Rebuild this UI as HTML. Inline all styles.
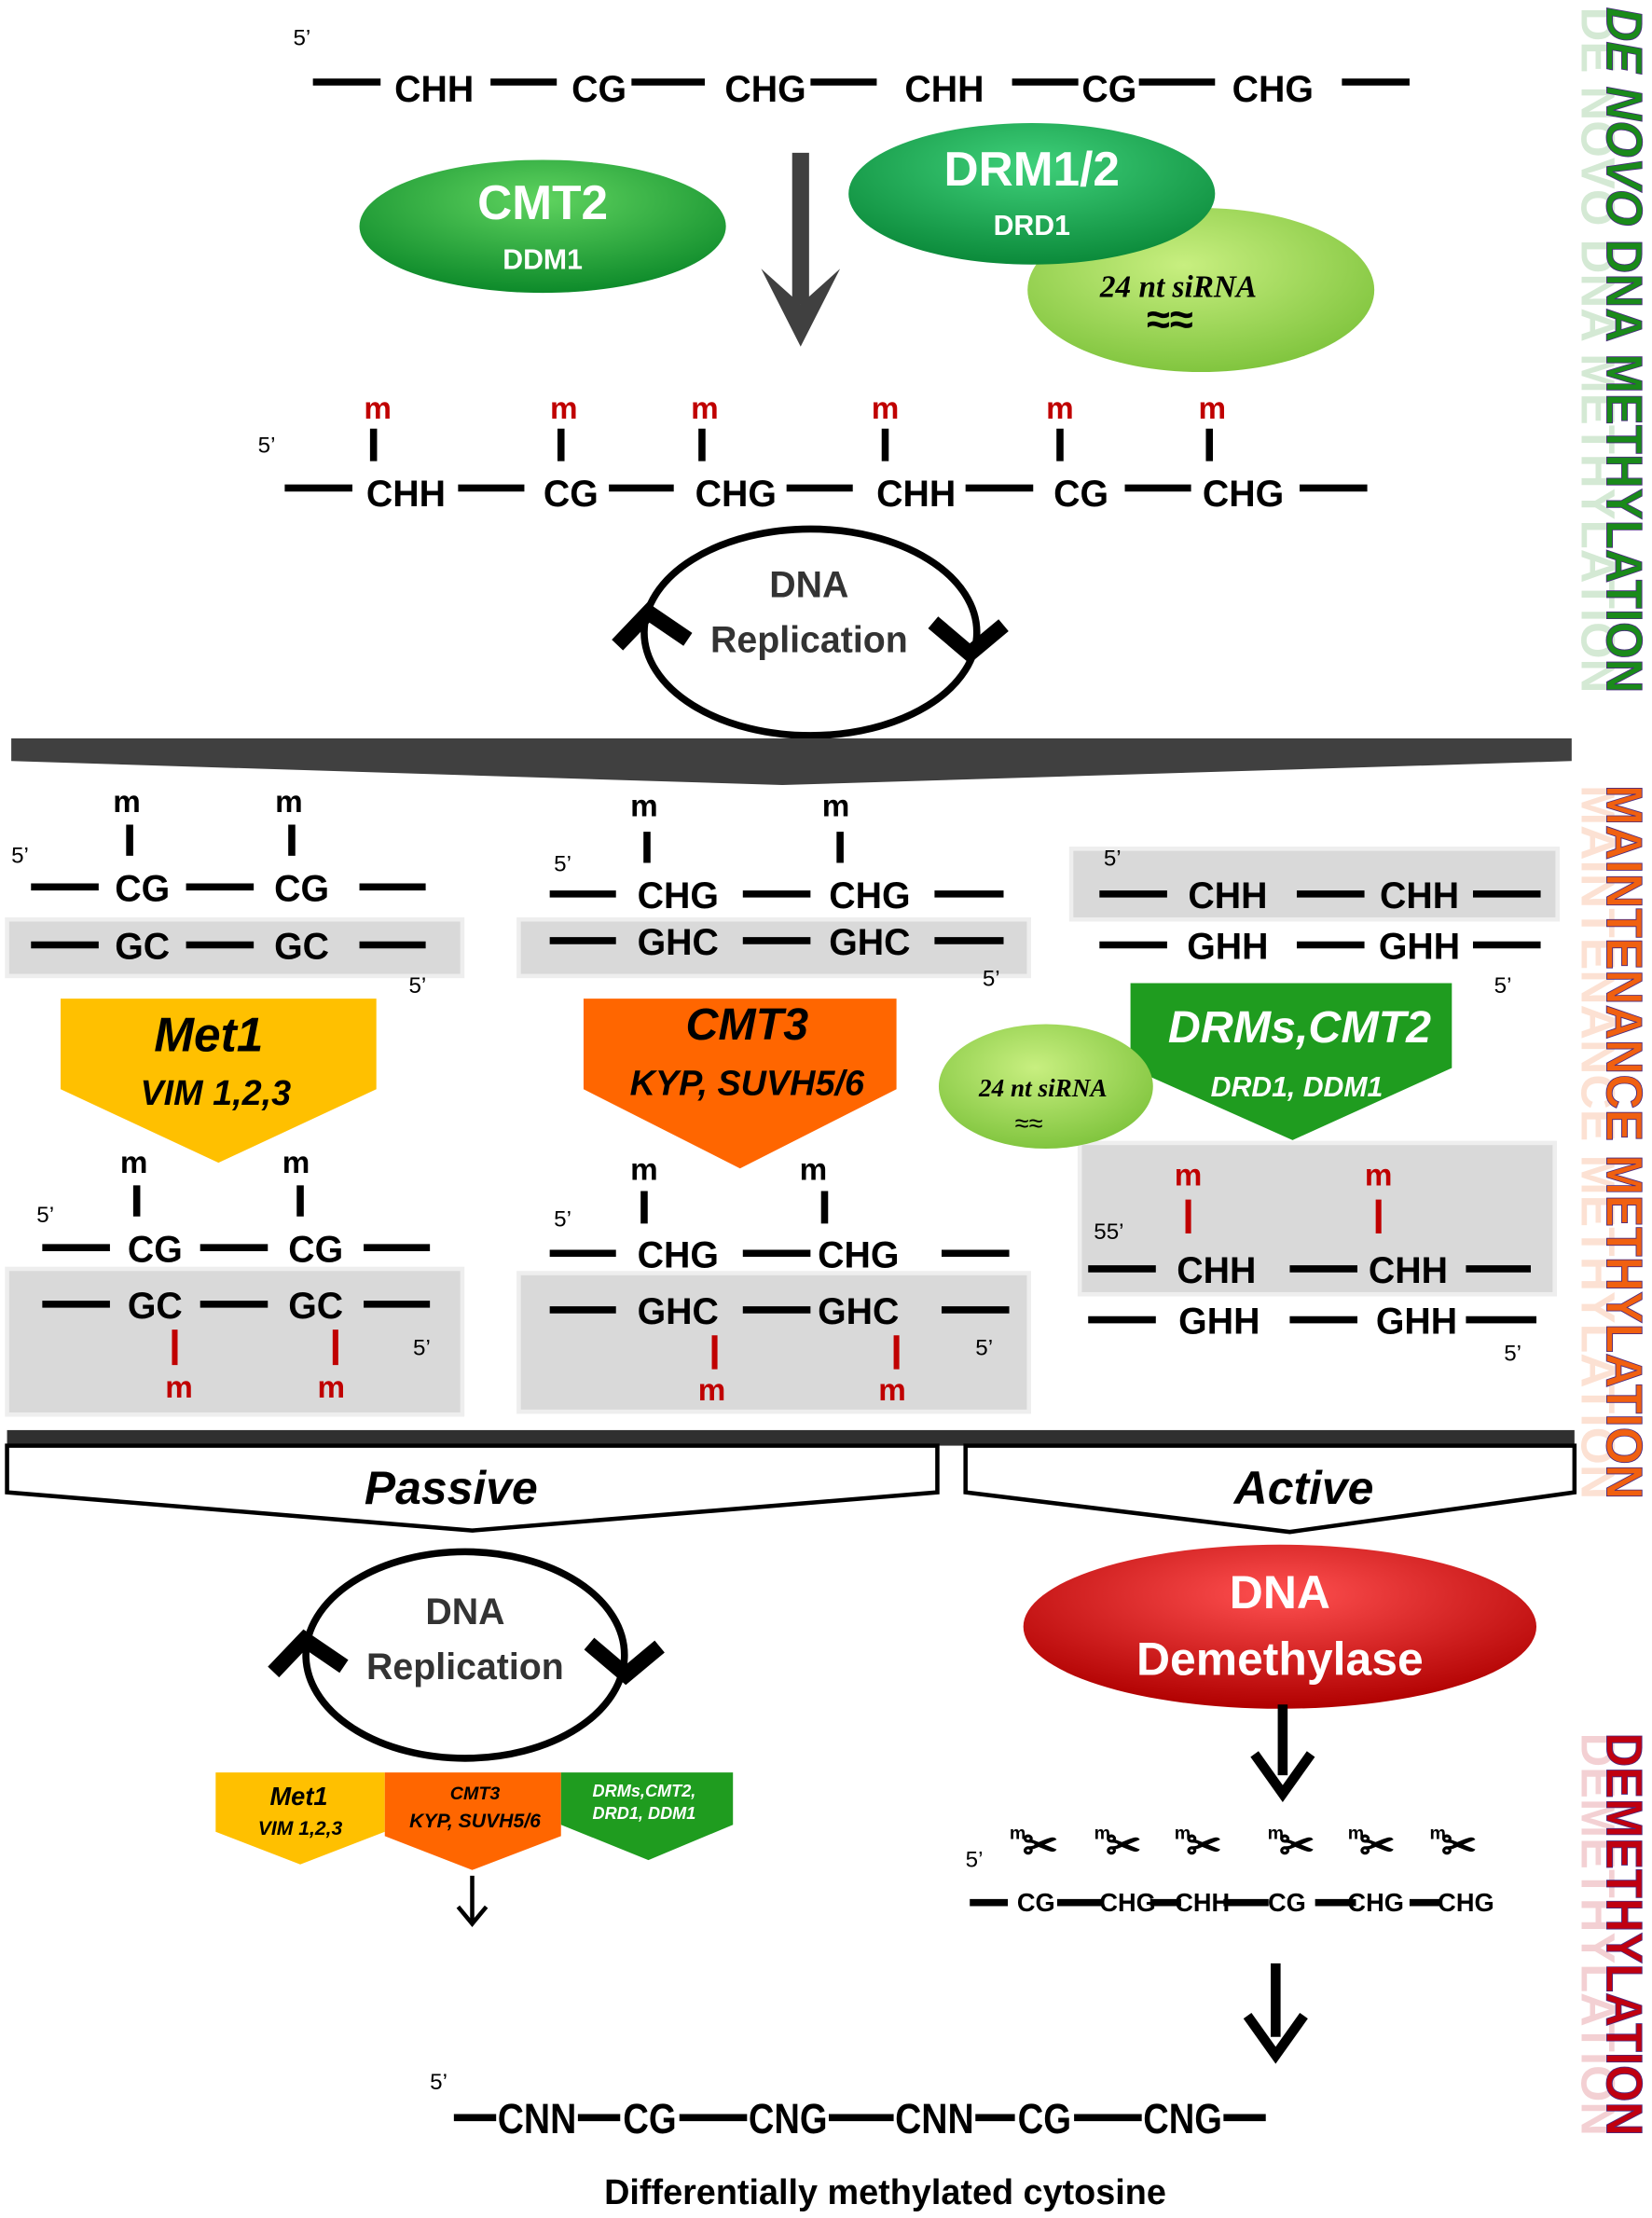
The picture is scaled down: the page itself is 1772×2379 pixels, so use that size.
<!DOCTYPE html>
<html><head><meta charset="utf-8"><style>
html,body{margin:0;padding:0;background:#fff}
svg{display:block}
text{font-family:"Liberation Sans",sans-serif;font-weight:bold}
</style></head><body>
<svg width="1772" height="2379" viewBox="0 0 1172 1568" preserveAspectRatio="none" xmlns="http://www.w3.org/2000/svg">
<defs>
<radialGradient id="gG" cx="50%" cy="30%" r="70%"><stop offset="0" stop-color="#5fd35f"/><stop offset="1" stop-color="#0d8a2a"/></radialGradient>
<radialGradient id="gD" cx="50%" cy="30%" r="70%"><stop offset="0" stop-color="#3fd07a"/><stop offset="1" stop-color="#0b8a3a"/></radialGradient>
<radialGradient id="gL" cx="45%" cy="35%" r="70%"><stop offset="0" stop-color="#c8ef80"/><stop offset="1" stop-color="#7cc23a"/></radialGradient>
<radialGradient id="gR" cx="50%" cy="30%" r="70%"><stop offset="0" stop-color="#ff5050"/><stop offset="1" stop-color="#b00000"/></radialGradient>
</defs>
<g stroke="#000" stroke-width="5">
<line x1="222" y1="58" x2="270" y2="58"/><line x1="348" y1="58" x2="395" y2="58"/><line x1="448" y1="58" x2="500" y2="58"/><line x1="575" y1="58" x2="622" y2="58"/><line x1="718" y1="58" x2="765" y2="58"/><line x1="808" y1="58" x2="862" y2="58"/><line x1="952" y1="58" x2="1000" y2="58"/>
<line x1="202" y1="345" x2="250" y2="345"/><line x1="325" y1="345" x2="372" y2="345"/><line x1="432" y1="345" x2="478" y2="345"/><line x1="558" y1="345" x2="605" y2="345"/><line x1="685" y1="345" x2="733" y2="345"/><line x1="798" y1="345" x2="845" y2="345"/><line x1="922" y1="345" x2="970" y2="345"/>
<line x1="265" y1="303" x2="265" y2="326"/><line x1="398" y1="303" x2="398" y2="326"/><line x1="498" y1="303" x2="498" y2="326"/><line x1="628" y1="303" x2="628" y2="326"/><line x1="752" y1="303" x2="752" y2="326"/><line x1="858" y1="303" x2="858" y2="326"/>
</g>
<g font-size="26" text-anchor="middle">
<text x="308" y="72">CHH</text><text x="425" y="72">CG</text><text x="543" y="72">CHG</text><text x="670" y="72">CHH</text><text x="787" y="72">CG</text><text x="903" y="72">CHG</text>
<text x="288" y="358">CHH</text><text x="405" y="358">CG</text><text x="522" y="358">CHG</text><text x="650" y="358">CHH</text><text x="767" y="358">CG</text><text x="882" y="358">CHG</text>
</g>
<g font-size="22" fill="#c00000" text-anchor="middle"><text x="268" y="296">m</text><text x="400" y="296">m</text><text x="500" y="296">m</text><text x="628" y="296">m</text><text x="752" y="296">m</text><text x="860" y="296">m</text></g>
<g font-size="16"><text x="208" y="32" style="font-weight:normal">5’</text><text x="183" y="320" style="font-weight:normal">5’</text></g>
<line x1="568" y1="108" x2="568" y2="215" stroke="#404040" stroke-width="12"/>
<polygon points="540,190 568,245 596,190 568,215" fill="#404040"/>
<ellipse cx="385" cy="160" rx="130" ry="47" fill="url(#gG)"/>
<text x="385" y="155" font-size="34" fill="#fff" text-anchor="middle">CMT2</text>
<text x="385" y="190" font-size="20" fill="#fff" text-anchor="middle">DDM1</text>
<ellipse cx="852" cy="205" rx="123" ry="58" fill="url(#gL)"/>
<ellipse cx="732" cy="137" rx="130" ry="50" fill="url(#gD)"/>
<text x="732" y="131" font-size="34" fill="#fff" text-anchor="middle">DRM1/2</text>
<text x="732" y="166" font-size="20" fill="#fff" text-anchor="middle">DRD1</text>
<text x="836" y="210" font-size="22" font-style="italic" text-anchor="middle" style="font-family:'Liberation Serif',serif">24 nt siRNA</text>
<text x="830" y="236" font-size="30" text-anchor="middle">≈≈</text>
<ellipse cx="575" cy="447" rx="118" ry="73" fill="none" stroke="#000" stroke-width="5"/>
<polyline points="438,456 460,433 488,452" fill="none" stroke="#000" stroke-width="11"/>
<polyline points="662,440 688,462 712,442" fill="none" stroke="#000" stroke-width="11"/>
<text x="574" y="422" font-size="26" fill="#333" text-anchor="middle">DNA</text>
<text x="574" y="461" font-size="26" fill="#333" text-anchor="middle">Replication</text>
<polygon points="8,522 1115,522 1115,538 555,555 8,538" fill="#404040"/>
<g fill="#d9d9d9" stroke="#eee" stroke-width="3">
<rect x="5" y="650" width="323" height="40"/><rect x="368" y="650" width="362" height="40"/><rect x="760" y="600" width="345" height="50"/>
<rect x="5" y="897" width="323" height="103"/><rect x="368" y="900" width="362" height="98"/><rect x="766" y="808" width="337" height="107"/>
</g>
<g stroke="#000" stroke-width="5">
<line x1="22" y1="627" x2="70" y2="627"/><line x1="132" y1="627" x2="180" y2="627"/><line x1="255" y1="627" x2="302" y2="627"/>
<line x1="22" y1="668" x2="70" y2="668"/><line x1="132" y1="668" x2="180" y2="668"/><line x1="255" y1="668" x2="302" y2="668"/>
<line x1="92" y1="583" x2="92" y2="605"/><line x1="207" y1="583" x2="207" y2="605"/>
<line x1="390" y1="632" x2="437" y2="632"/><line x1="527" y1="632" x2="575" y2="632"/><line x1="663" y1="632" x2="712" y2="632"/>
<line x1="390" y1="665" x2="437" y2="665"/><line x1="527" y1="665" x2="575" y2="665"/><line x1="663" y1="665" x2="712" y2="665"/>
<line x1="459" y1="588" x2="459" y2="610"/><line x1="596" y1="588" x2="596" y2="610"/>
<line x1="780" y1="632" x2="828" y2="632"/><line x1="920" y1="632" x2="968" y2="632"/><line x1="1045" y1="632" x2="1093" y2="632"/>
<line x1="780" y1="668" x2="828" y2="668"/><line x1="920" y1="668" x2="968" y2="668"/><line x1="1045" y1="668" x2="1093" y2="668"/>
<line x1="30" y1="882" x2="78" y2="882"/><line x1="142" y1="882" x2="190" y2="882"/><line x1="258" y1="882" x2="305" y2="882"/>
<line x1="30" y1="922" x2="78" y2="922"/><line x1="142" y1="922" x2="190" y2="922"/><line x1="258" y1="922" x2="305" y2="922"/>
<line x1="97" y1="838" x2="97" y2="860"/><line x1="213" y1="838" x2="213" y2="860"/>
<line x1="390" y1="886" x2="437" y2="886"/><line x1="527" y1="886" x2="575" y2="886"/><line x1="668" y1="886" x2="716" y2="886"/>
<line x1="390" y1="926" x2="437" y2="926"/><line x1="527" y1="926" x2="575" y2="926"/><line x1="668" y1="926" x2="716" y2="926"/>
<line x1="457" y1="842" x2="457" y2="865"/><line x1="585" y1="842" x2="585" y2="865"/>
<line x1="772" y1="897" x2="820" y2="897"/><line x1="915" y1="897" x2="963" y2="897"/><line x1="1040" y1="897" x2="1086" y2="897"/>
<line x1="772" y1="933" x2="820" y2="933"/><line x1="915" y1="933" x2="963" y2="933"/><line x1="1040" y1="933" x2="1090" y2="933"/>
</g>
<g stroke="#c00000" stroke-width="4">
<line x1="124" y1="940" x2="124" y2="965"/><line x1="238" y1="940" x2="238" y2="965"/>
<line x1="507" y1="944" x2="507" y2="968"/><line x1="636" y1="944" x2="636" y2="968"/>
<line x1="843" y1="848" x2="843" y2="872"/><line x1="978" y1="848" x2="978" y2="872"/>
</g>
<g font-size="26" text-anchor="middle">
<text x="101" y="637">CG</text><text x="214" y="637">CG</text><text x="101" y="678">GC</text><text x="214" y="678">GC</text>
<text x="481" y="642">CHG</text><text x="617" y="642">CHG</text><text x="481" y="675">GHC</text><text x="617" y="675">GHC</text>
<text x="871" y="642">CHH</text><text x="1007" y="642">CHH</text><text x="871" y="678">GHH</text><text x="1007" y="678">GHH</text>
<text x="110" y="892">CG</text><text x="224" y="892">CG</text><text x="110" y="932">GC</text><text x="224" y="932">GC</text>
<text x="481" y="896">CHG</text><text x="609" y="896">CHG</text><text x="481" y="936">GHC</text><text x="609" y="936">GHC</text>
<text x="863" y="907">CHH</text><text x="999" y="907">CHH</text><text x="865" y="943">GHH</text><text x="1005" y="943">GHH</text>
</g>
<g font-size="22" text-anchor="middle">
<text x="90" y="574">m</text><text x="205" y="574">m</text><text x="457" y="577">m</text><text x="593" y="577">m</text>
<text x="95" y="829">m</text><text x="210" y="829">m</text><text x="457" y="834">m</text><text x="577" y="834">m</text>
</g>
<g font-size="22" fill="#c00000" text-anchor="middle">
<text x="127" y="988">m</text><text x="235" y="988">m</text><text x="505" y="990">m</text><text x="633" y="990">m</text><text x="843" y="838">m</text><text x="978" y="838">m</text>
</g>
<g font-size="16">
<text x="8" y="610" style="font-weight:normal">5’</text><text x="290" y="702" style="font-weight:normal">5’</text>
<text x="393" y="616" style="font-weight:normal">5’</text><text x="697" y="697" style="font-weight:normal">5’</text>
<text x="783" y="612" style="font-weight:normal">5’</text><text x="1060" y="702" style="font-weight:normal">5’</text>
<text x="26" y="864" style="font-weight:normal">5’</text><text x="293" y="958" style="font-weight:normal">5’</text>
<text x="393" y="867" style="font-weight:normal">5’</text><text x="692" y="958" style="font-weight:normal">5’</text>
<text x="776" y="876" style="font-weight:normal">55’</text><text x="1067" y="962" style="font-weight:normal">5’</text>
</g>
<polygon points="43,706 267,706 267,770 155,822 43,770" fill="#ffc000"/>
<text x="148" y="743" font-size="34" font-style="italic" text-anchor="middle">Met1</text>
<text x="153" y="781" font-size="25" font-style="italic" text-anchor="middle">VIM 1,2,3</text>
<polygon points="414,706 636,706 636,770 525,826 414,770" fill="#ff6600"/>
<text x="530" y="735" font-size="32" font-style="italic" text-anchor="middle">CMT3</text>
<text x="530" y="774" font-size="25" font-style="italic" text-anchor="middle">KYP, SUVH5/6</text>
<polygon points="802,695 1030,695 1030,755 917,806 802,755" fill="#1f9c1f"/>
<text x="922" y="737" font-size="32" font-style="italic" fill="#fff" text-anchor="middle">DRMs,CMT2</text>
<text x="920" y="775" font-size="20" font-style="italic" fill="#fff" text-anchor="middle">DRD1, DDM1</text>
<ellipse cx="742" cy="768" rx="76" ry="44" fill="url(#gL)"/>
<text x="740" y="775" font-size="18" font-style="italic" text-anchor="middle" style="font-family:'Liberation Serif',serif">24 nt siRNA</text>
<text x="730" y="800" font-size="18" text-anchor="middle" style="font-weight:normal">≈≈</text>
<rect x="5" y="1011" width="1112" height="11" fill="#303030"/>
<polygon points="5,1022 665,1022 665,1055 335,1082 5,1055" fill="#fff" stroke="#000" stroke-width="3"/>
<polygon points="685,1022 1117,1022 1117,1055 915,1083 685,1055" fill="#fff" stroke="#000" stroke-width="3"/>
<text x="320" y="1063" font-size="33" font-style="italic" text-anchor="middle">Passive</text>
<text x="925" y="1063" font-size="33" font-style="italic" text-anchor="middle">Active</text>
<ellipse cx="330" cy="1170" rx="113" ry="73" fill="none" stroke="#000" stroke-width="5"/>
<polyline points="194,1182 216,1159 244,1178" fill="none" stroke="#000" stroke-width="11"/>
<polyline points="418,1162 444,1184 468,1164" fill="none" stroke="#000" stroke-width="11"/>
<text x="330" y="1148" font-size="26" fill="#333" text-anchor="middle">DNA</text>
<text x="330" y="1187" font-size="26" fill="#333" text-anchor="middle">Replication</text>
<polygon points="153,1253 273,1253 273,1295 213,1318 153,1295" fill="#ffc000"/>
<text x="212" y="1276" font-size="18" font-style="italic" text-anchor="middle">Met1</text>
<text x="213" y="1297" font-size="14" font-style="italic" text-anchor="middle">VIM 1,2,3</text>
<polygon points="273,1253 398,1253 398,1298 335,1322 273,1298" fill="#ff6600"/>
<text x="337" y="1272" font-size="13" font-style="italic" text-anchor="middle">CMT3</text>
<text x="337" y="1292" font-size="14" font-style="italic" text-anchor="middle">KYP, SUVH5/6</text>
<polygon points="398,1253 520,1253 520,1290 460,1315 398,1290" fill="#1f9c1f"/>
<text x="457" y="1270" font-size="12" font-style="italic" fill="#fff" text-anchor="middle">DRMs,CMT2,</text>
<text x="457" y="1286" font-size="12" font-style="italic" fill="#fff" text-anchor="middle">DRD1, DDM1</text>
<line x1="335" y1="1326" x2="335" y2="1358" stroke="#000" stroke-width="3"/>
<path d="M325,1348 L335,1360 L345,1348" fill="none" stroke="#000" stroke-width="3"/>
<ellipse cx="908" cy="1150" rx="182" ry="58" fill="url(#gR)"/>
<text x="908" y="1137" font-size="33" fill="#fff" text-anchor="middle">DNA</text>
<text x="908" y="1184" font-size="33" fill="#fff" text-anchor="middle">Demethylase</text>
<line x1="910" y1="1205" x2="910" y2="1255" stroke="#000" stroke-width="7"/>
<path d="M890,1240 L910,1268 L930,1240" fill="none" stroke="#000" stroke-width="7"/>
<text x="685" y="1320" font-size="16" style="font-weight:normal">5’</text>
<g font-size="30" style="font-weight:normal" text-anchor="middle">
<text x="738" y="1315">✂</text><text x="797" y="1315">✂</text><text x="854" y="1315">✂</text><text x="920" y="1315">✂</text><text x="977" y="1315">✂</text><text x="1035" y="1315">✂</text>
</g>
<g font-size="13" text-anchor="middle"><text x="722" y="1300">m</text><text x="782" y="1300">m</text><text x="839" y="1300">m</text><text x="905" y="1300">m</text><text x="962" y="1300">m</text><text x="1020" y="1300">m</text></g>
<g stroke="#000" stroke-width="5">
<line x1="688" y1="1345" x2="715" y2="1345"/><line x1="750" y1="1345" x2="782" y2="1345"/><line x1="816" y1="1345" x2="838" y2="1345"/><line x1="868" y1="1345" x2="900" y2="1345"/><line x1="933" y1="1345" x2="962" y2="1345"/><line x1="1000" y1="1345" x2="1022" y2="1345"/>
</g>
<g font-size="18" style="font-weight:normal" text-anchor="middle"><text x="735" y="1351">CG</text><text x="800" y="1351">CHG</text><text x="853" y="1351">CHH</text><text x="913" y="1351">CG</text><text x="976" y="1351">CHG</text><text x="1040" y="1351">CHG</text></g>
<line x1="905" y1="1388" x2="905" y2="1440" stroke="#000" stroke-width="7"/>
<path d="M885,1425 L905,1453 L925,1425" fill="none" stroke="#000" stroke-width="7"/>
<g stroke="#000" stroke-width="5">
<line x1="322" y1="1497" x2="352" y2="1497"/><line x1="410" y1="1497" x2="440" y2="1497"/><line x1="482" y1="1497" x2="530" y2="1497"/><line x1="588" y1="1497" x2="634" y2="1497"/><line x1="692" y1="1497" x2="720" y2="1497"/><line x1="762" y1="1497" x2="810" y2="1497"/><line x1="868" y1="1497" x2="898" y2="1497"/>
</g>
<g font-size="30" style="font-weight:normal" text-anchor="middle"><text x="381" y="1508" textLength="56" lengthAdjust="spacingAndGlyphs">CNN</text><text x="461" y="1508" textLength="38" lengthAdjust="spacingAndGlyphs">CG</text><text x="559" y="1508" textLength="56" lengthAdjust="spacingAndGlyphs">CNG</text><text x="663" y="1508" textLength="56" lengthAdjust="spacingAndGlyphs">CNN</text><text x="741" y="1508" textLength="38" lengthAdjust="spacingAndGlyphs">CG</text><text x="839" y="1508" textLength="56" lengthAdjust="spacingAndGlyphs">CNG</text></g>
<text x="305" y="1477" font-size="16" style="font-weight:normal">5’</text>
<text x="628" y="1558" font-size="25" text-anchor="middle">Differentially methylated cytosine</text>
<g font-size="34" opacity="0.18">
<text transform="translate(1122,5) rotate(90)" textLength="485" lengthAdjust="spacingAndGlyphs" fill="#1a8a1a">DE NOVO DNA METHYLATION</text>
<text transform="translate(1122,555) rotate(90)" textLength="505" lengthAdjust="spacingAndGlyphs" fill="#f06010">MAINTENANCE  METHYLATION</text>
<text transform="translate(1122,1225) rotate(90)" textLength="285" lengthAdjust="spacingAndGlyphs" fill="#c00010">DEMETHYLATION</text>
</g>
<g font-size="36">
<text transform="translate(1140,5) rotate(90)" textLength="485" lengthAdjust="spacingAndGlyphs" fill="#1a8a1a" stroke="#4a2a80" stroke-width="0.6"><tspan font-style="italic">DE NOVO</tspan> DNA METHYLATION</text>
<text transform="translate(1140,555) rotate(90)" textLength="505" lengthAdjust="spacingAndGlyphs" fill="#f06010" stroke="#4a2a80" stroke-width="0.6">MAINTENANCE  METHYLATION</text>
<text transform="translate(1140,1225) rotate(90)" textLength="285" lengthAdjust="spacingAndGlyphs" fill="#c00010" stroke="#4a2a80" stroke-width="0.6">DEMETHYLATION</text>
</g>
</svg>
</body></html>
